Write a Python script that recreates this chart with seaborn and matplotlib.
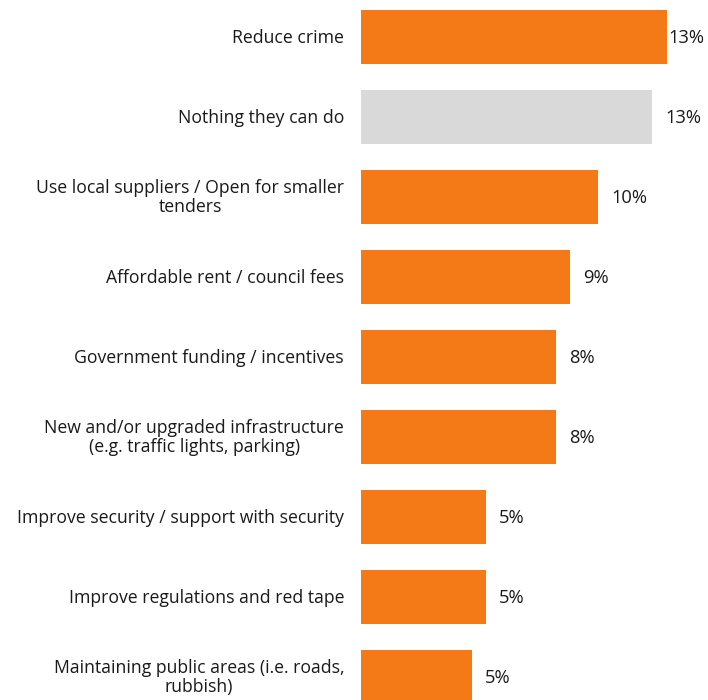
import matplotlib
matplotlib.use("Agg")
import matplotlib.pyplot as plt
import seaborn as sns
import pandas as pd

categories = [
    "Reduce crime",
    "Nothing they can do",
    "Use local suppliers / Open for smaller\ntenders",
    "Affordable rent / council fees",
    "Government funding / incentives",
    "New and/or upgraded infrastructure\n(e.g. traffic lights, parking)",
    "Improve security / support with security",
    "Improve regulations and red tape",
    "Maintaining public areas (i.e. roads,\nrubbish)",
]
values = [12.95, 12.35, 10.05, 8.85, 8.25, 8.25, 5.3, 5.3, 4.7]
labels = ["13%", "13%", "10%", "9%", "8%", "8%", "5%", "5%", "5%"]
groups = ["main", "none", "main", "main", "main", "main", "main", "main", "main"]

df = pd.DataFrame({"cat": categories, "val": values, "grp": groups})

sns.set_theme(style="white")
plt.rcParams["font.family"] = ["Open Sans", "DejaVu Sans"]

W, H = 708, 700
fig = plt.figure(figsize=(W / 100, H / 100), dpi=100)
x0 = 361
ax = fig.add_axes([x0 / W, 0, 1 - x0 / W, 1])

sns.barplot(data=df, x="val", y="cat", hue="grp", dodge=False,
            palette={"main": "#F47A18", "none": "#D9D9D9"},
            width=0.67, ax=ax, legend=False, saturation=1, linewidth=0)

pxper = 23.6
ax.set_xlim(0, (W - x0) / pxper)
ax.set_ylim((H - 37) / 80, -37 / 80)
ax.set_xlabel("")
ax.set_ylabel("")
ax.set_xticks([])
ax.set_yticks([])
for s in ax.spines.values():
    s.set_visible(False)

for i, (cat, v, lab) in enumerate(zip(categories, values, labels)):
    end_px = v * pxper
    off = min(13, (W - x0) - 40 - end_px)
    ax.annotate(lab, xy=(v, i), xytext=(off * 0.72, -0.5), textcoords="offset points",
                ha="left", va="center", fontsize=13.2, color="#1a1a1a")
    ax.annotate(cat, xy=(0, i), xytext=(-17 * 0.72, -0.5), textcoords="offset points",
                ha="right", va="center", multialignment="center",
                fontsize=12.7, color="#1a1a1a", annotation_clip=False,
                linespacing=1.05)

fig.savefig("out.png", dpi=100)
